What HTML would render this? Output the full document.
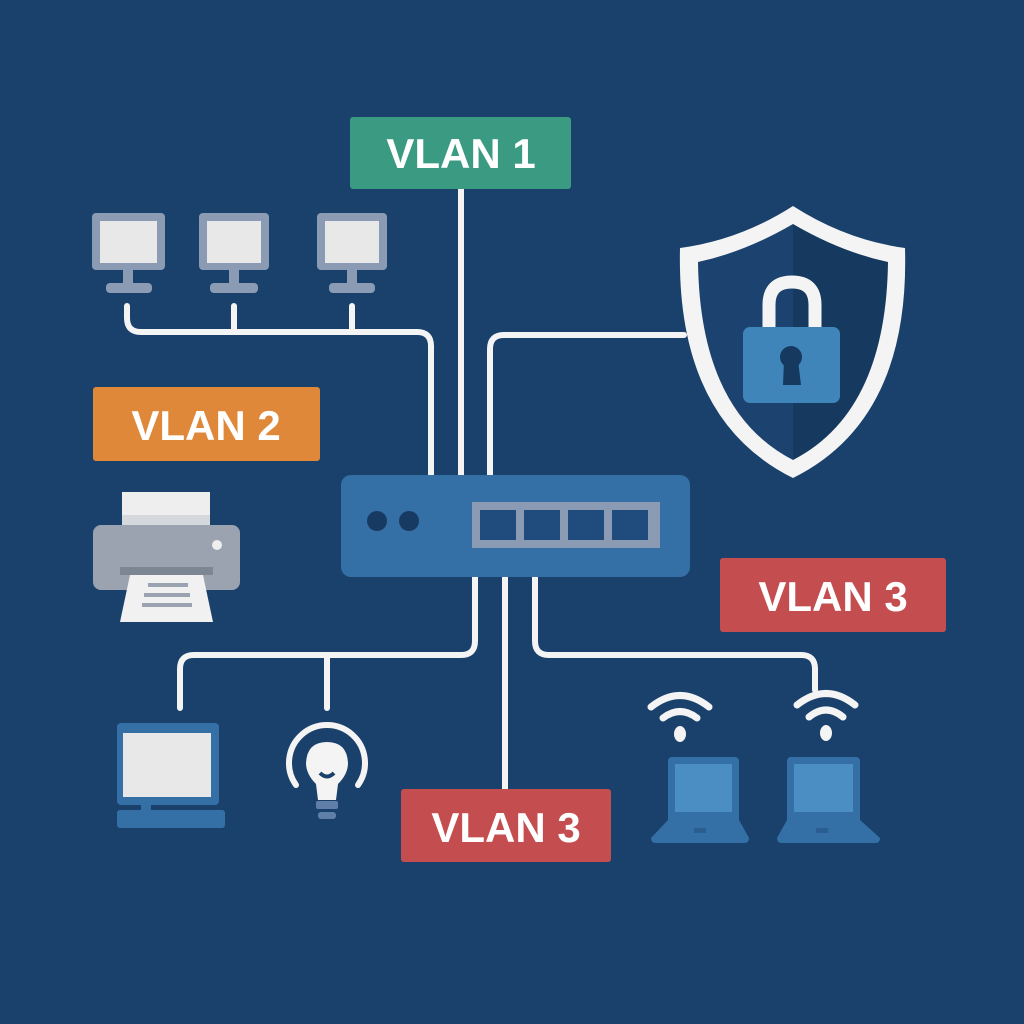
<!DOCTYPE html>
<html><head><style>
html,body{margin:0;padding:0;background:#1a416b;}
svg{display:block}
text{font-family:"Liberation Sans",sans-serif;font-weight:bold;fill:#fff}
</style></head><body>
<svg width="1024" height="1024" viewBox="0 0 1024 1024">
<rect width="1024" height="1024" fill="#1a416b"/>
<g fill="none" stroke="#f4f4f4" stroke-width="6" stroke-linecap="round">
<line x1="461" y1="189" x2="461" y2="476"/>
<path d="M127 306 V318 Q127 332 141 332 H417 Q431 332 431 346 V476"/>
<line x1="234" y1="306" x2="234" y2="332"/>
<line x1="352" y1="306" x2="352" y2="332"/>
<path d="M490 476 V349 Q490 335 504 335 H684"/>
<path d="M475 577 V641 Q475 655 461 655 H194 Q180 655 180 669 V708"/>
<line x1="327" y1="655" x2="327" y2="708"/>
<line x1="505" y1="577" x2="505" y2="790"/>
<path d="M535 577 V641 Q535 655 549 655 H801 Q815 655 815 669 V690"/>
</g>
<rect x="350" y="117" width="221" height="72" rx="3" fill="#3a9b82"/>
<text x="461" y="168" font-size="42" text-anchor="middle">VLAN 1</text>
<rect x="93" y="387" width="227" height="74" rx="3" fill="#e0883a"/>
<text x="206" y="440" font-size="42" text-anchor="middle">VLAN 2</text>
<rect x="720" y="558" width="226" height="74" rx="3" fill="#c44d4f"/>
<text x="833" y="611" font-size="42" text-anchor="middle">VLAN 3</text>
<rect x="401" y="789" width="210" height="73" rx="3" fill="#c44d4f"/>
<text x="506" y="842" font-size="42" text-anchor="middle">VLAN 3</text>
<rect x="341" y="475" width="349" height="102" rx="10" fill="#3470a6"/>
<circle cx="377" cy="521" r="10" fill="#173a63"/>
<circle cx="409" cy="521" r="10" fill="#173a63"/>
<rect x="472" y="502" width="188" height="46" fill="#8a9bb3"/>
<g fill="#1f4c7c">
<rect x="480" y="510" width="36" height="30"/><rect x="524" y="510" width="36" height="30"/>
<rect x="568" y="510" width="36" height="30"/><rect x="612" y="510" width="36" height="30"/>
</g>
<g>
<rect x="92" y="213" width="73" height="57" rx="4" fill="#8a9bb3"/><rect x="100" y="221" width="57" height="42" fill="#e8e8e8"/>
<rect x="123" y="270" width="10" height="14" fill="#8a9bb3"/><rect x="106" y="283" width="46" height="10" rx="4" fill="#8a9bb3"/>
<rect x="199" y="213" width="70" height="57" rx="4" fill="#8a9bb3"/><rect x="207" y="221" width="54" height="42" fill="#e8e8e8"/>
<rect x="229" y="270" width="10" height="14" fill="#8a9bb3"/><rect x="210" y="283" width="48" height="10" rx="4" fill="#8a9bb3"/>
<rect x="317" y="213" width="70" height="57" rx="4" fill="#8a9bb3"/><rect x="325" y="221" width="54" height="42" fill="#e8e8e8"/>
<rect x="347" y="270" width="10" height="14" fill="#8a9bb3"/><rect x="329" y="283" width="46" height="10" rx="4" fill="#8a9bb3"/>
</g>
<path d="M793 206 Q740 240 680 248 Q676 420 793 478 Q910 420 905 248 Q846 240 793 206 Z" fill="#f4f4f4"/>
<path d="M793 224 Q745 252 698 262 Q700 412 793 460 Z" fill="#1c426f"/>
<path d="M793 224 Q841 252 888 262 Q886 412 793 460 Z" fill="#163960"/>
<path d="M769 328 V305 Q769 282 792 282 Q815 282 815 305 V328" fill="none" stroke="#f4f4f4" stroke-width="13"/>
<rect x="743" y="327" width="97" height="76" rx="7" fill="#3f85b9"/>
<circle cx="791" cy="357" r="11" fill="#163960"/>
<path d="M784 360 L798 360 L801 385 L783 385 Z" fill="#163960"/>
<rect x="122" y="492" width="88" height="35" fill="#eeeeee"/>
<rect x="122" y="515" width="88" height="12" fill="#d5d8dc"/>
<rect x="93" y="525" width="147" height="65" rx="8" fill="#9aa3af"/>
<circle cx="217" cy="545" r="5" fill="#eeeeee"/>
<rect x="120" y="567" width="93" height="8" fill="#7d8794"/>
<path d="M130 575 H203 L213 622 H120 Z" fill="#f1f1f1"/>
<g fill="#9aa3af"><rect x="148" y="583" width="40" height="4"/><rect x="144" y="593" width="46" height="4"/><rect x="142" y="603" width="50" height="4"/></g>
<rect x="117" y="723" width="102" height="82" rx="4" fill="#3470a6"/>
<rect x="123" y="733" width="88" height="64" fill="#e8e8e8"/>
<rect x="141" y="805" width="10" height="10" fill="#3470a6"/>
<rect x="117" y="810" width="108" height="18" rx="3" fill="#3470a6"/>
<path d="M296 785 A38 38 0 1 1 358 785" fill="none" stroke="#f4f4f4" stroke-width="6" stroke-linecap="round"/>
<path d="M327 742 Q347 742 348 763 Q348 774 338 784 L336 800 H318 L316 784 Q306 774 306 763 Q307 742 327 742 Z" fill="#f4f4f4"/>
<path d="M320 773 Q327 780 334 773" fill="none" stroke="#1a416b" stroke-width="4"/>
<line x1="327" y1="777" x2="327" y2="800" stroke="#1a416b" stroke-width="0"/>
<rect x="316" y="801" width="22" height="8" rx="2" fill="#5f7fa8"/>
<rect x="318" y="812" width="18" height="7" rx="3" fill="#5f7fa8"/>
<g fill="none" stroke="#f4f4f4" stroke-width="7" stroke-linecap="round">
<path d="M651 707 Q680 684 709 707"/><path d="M663 718 Q680 705 697 718"/>
<path d="M797 705 Q826 682 855 705"/><path d="M809 717 Q826 703 843 717"/>
</g>
<ellipse cx="680" cy="734" rx="6" ry="8" fill="#f4f4f4"/>
<ellipse cx="826" cy="733" rx="6" ry="8" fill="#f4f4f4"/>
<g>
<rect x="668" y="757" width="71" height="67" rx="4" fill="#3470a6"/><rect x="675" y="764" width="57" height="48" fill="#4b8ec4"/>
<path d="M668 820 H739 L749 838 Q749 843 744 843 H656 Q651 843 651 838 Z" fill="#3470a6"/>
<rect x="694" y="828" width="12" height="5" fill="#2a5e90"/>
<rect x="787" y="757" width="73" height="67" rx="4" fill="#3470a6"/><rect x="794" y="764" width="59" height="48" fill="#4b8ec4"/>
<path d="M787 820 H860 L880 838 Q880 843 875 843 H782 Q777 843 777 838 Z" fill="#3470a6"/>
<rect x="816" y="828" width="12" height="5" fill="#2a5e90"/>
</g>
</svg>
</body></html>
